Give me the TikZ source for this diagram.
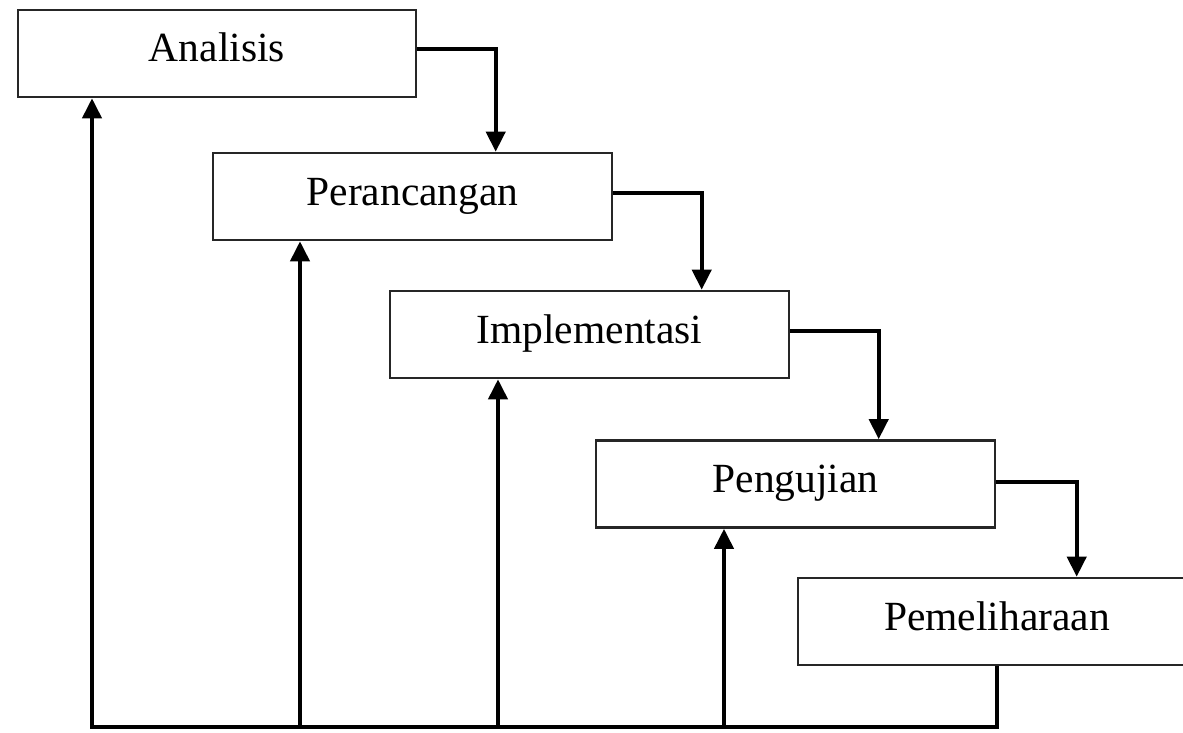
\documentclass[tikz,border=0pt]{standalone}
\usepackage{fontspec}
\setmainfont{Liberation Serif}
\usetikzlibrary{arrows.meta}

\tikzset{
  phase/.style={draw=black!85, line width=2.6pt, fill=white, rectangle,
    minimum height=87pt, inner sep=0pt,
    font=\fontsize{41.5}{48}\selectfont,
    text height=29pt, text depth=12pt},
  link/.style={line width=4pt, draw=black, line join=miter},
  flow/.style={link, -{Triangle[length=20pt,width=19pt]}}
}

\begin{document}
\begin{tikzpicture}[x=1pt,y=-1pt]
  \useasboundingbox (0,0) rectangle (1183,733);
  \clip (0,0) rectangle (1183,733);

  % waterfall phases
  \node[phase, minimum width=398pt] (an) at (217,53.5)  {Analisis};
  \node[phase, minimum width=399pt] (pr) at (412.5,196.5) {Perancangan};
  \node[phase, minimum width=399pt] (im) at (589.5,334.5) {Implementasi};
  \node[phase, minimum width=399pt] (pg) at (795.5,484) {Pengujian};
  \node[phase, minimum width=398pt] (pm) at (997,621.5) {Pemeliharaan};

  % forward steps
  \draw[flow] ([yshift=4pt]an.east) -| ([xshift=284pt]pr.north west);
  \draw[flow] ([yshift=4pt]pr.east) -| ([xshift=313pt]im.north west);
  \draw[flow] ([yshift=4pt]im.east) -| ([xshift=284pt]pg.north west);
  \draw[flow] ([yshift=2pt]pg.east) -| ([xshift=280pt]pm.north west);

  % feedback lines along the bottom
  \coordinate (f1) at (92,727);
  \coordinate (f2) at (300,727);
  \coordinate (f3) at (498,727);
  \coordinate (f4) at (724,727);
  \draw[flow] (pm.south) |- (f1) -- (f1 |- an.south);
  \draw[flow] (f2) -- (f2 |- pr.south);
  \draw[flow] (f3) -- (f3 |- im.south);
  \draw[flow] (f4) -- (f4 |- pg.south);
\end{tikzpicture}
\end{document}
